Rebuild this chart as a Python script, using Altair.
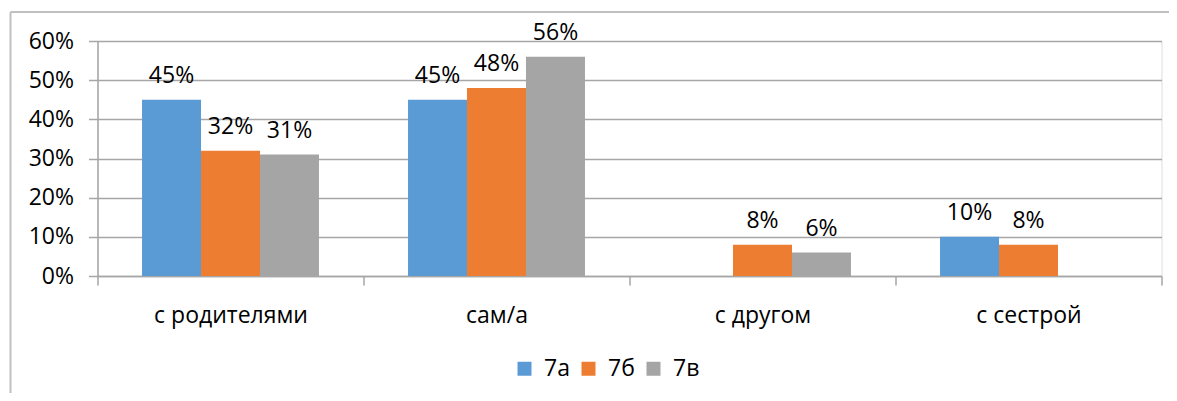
import altair as alt
import pandas as pd

categories = ["с родителями", "сам/а", "с другом", "с сестрой"]
series = ["7а", "7б", "7в"]
v_7a = [0.45, 0.45, None, 0.10]
v_7b = [0.32, 0.48, 0.08, 0.08]
v_7v = [0.31, 0.56, 0.06, None]
colors = ["#5B9BD5", "#ED7D31", "#A5A5A5"]
y_ticks = [0, 0.1, 0.2, 0.3, 0.4, 0.5, 0.6]

rows = []
for s, vals in zip(series, [v_7a, v_7b, v_7v]):
    for c, v in zip(categories, vals):
        if v is not None:
            rows.append({"cat": c, "series": s, "value": v})
df = pd.DataFrame(rows)

FONT = "Open Sans"
FS = 23
GRID = "#a6a6a6"

x_enc = alt.X("cat:N", sort=categories, title=None,
              scale=alt.Scale(paddingInner=0, paddingOuter=0),
              axis=alt.Axis(labelAngle=0, labelFontSize=FS, labelPadding=19,
                            labelColor="#000000", labelFont=FONT,
                            tickBand="extent", ticks=True, tickSize=9,
                            tickColor=GRID, tickWidth=1.5,
                            domainColor=GRID, domainWidth=1.5, grid=False))
y_enc = alt.Y("value:Q", title=None,
              scale=alt.Scale(domain=[0, 0.6], nice=False, zero=True),
              axis=alt.Axis(values=y_ticks, format=".0%", labelFontSize=FS,
                            labelColor="#000000", labelFont=FONT, labelPadding=15,
                            labelOverlap=False, labelFlush=False,
                            tickSize=9, tickColor=GRID, tickWidth=1.5,
                            domainColor=GRID, domainWidth=1.5,
                            grid=True, gridColor=GRID, gridWidth=1.5))
xo = alt.XOffset("series:N", sort=series,
                 scale=alt.Scale(domain=series, paddingInner=0, paddingOuter=0.755))
color = alt.Color("series:N", sort=series, title=None,
                  scale=alt.Scale(domain=series, range=colors),
                  legend=alt.Legend(orient="none", direction="horizontal",
                                    legendX=415.5, legendY=316,
                                    symbolType="square", symbolSize=196,
                                    symbolStrokeWidth=0,
                                    labelFontSize=FS, labelFont=FONT,
                                    labelColor="#000000", columnPadding=7,
                                    labelOffset=8, padding=0))

frame = pd.DataFrame({"a": [0]})
top_line = alt.Chart(frame).mark_rule(stroke="#c0c0c0", strokeWidth=2).encode(
    x=alt.value(-87), x2=alt.value(1072), y=alt.value(-29))
left_line = alt.Chart(frame).mark_rule(stroke="#c0c0c0", strokeWidth=2).encode(
    x=alt.value(-87), y=alt.value(-29), y2=alt.value(352))

bars = alt.Chart(df).mark_bar().encode(x=x_enc, y=y_enc, xOffset=xo, color=color)
labels = alt.Chart(df).mark_text(
    baseline="alphabetic", dy=-17, fontSize=FS, font=FONT, color="#000000"
).encode(x=x_enc, y=y_enc, xOffset=xo,
         text=alt.Text("value:Q", format=".0%"))

chart = alt.layer(top_line, left_line, bars, labels).properties(
    width=1064, height=235,
    autosize=alt.AutoSizeParams(type="none"),
    padding={"left": 89.5, "top": 33, "right": 7.5, "bottom": 117},
).configure_view(stroke=None).configure(background="white")

chart.save("out.html", embed_options={"renderer": "svg", "actions": False})
